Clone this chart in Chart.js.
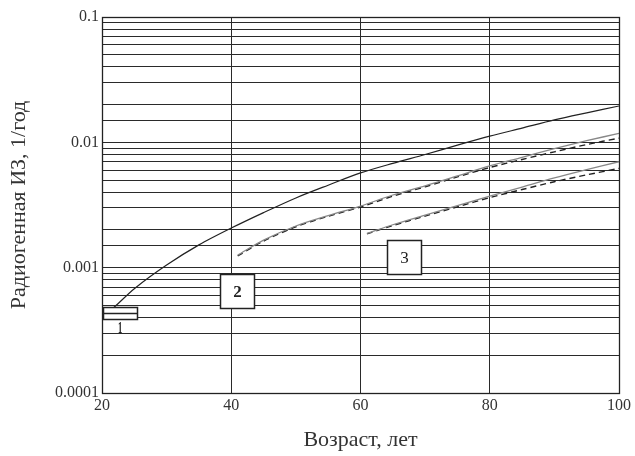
<!DOCTYPE html>
<html>
<head>
<meta charset="utf-8">
<script src="https://cdn.jsdelivr.net/npm/chart.js@4"></script>
<style>
html,body{margin:0;padding:0;background:#fff;}
#wrap{width:635px;height:456px;}
</style>
</head>
<body>
<div id="wrap"><canvas id="c" width="635" height="456"></canvas></div>
<script>
// ---- data ----
const xTickLabels = [20, 40, 60, 80, 100];
const yTickLabels = ['0.0001', '0.001', '0.01', '0.1'];

const age1  = [21.5, 22, 25, 30, 35, 40, 45, 50, 55, 60, 65, 70, 75, 80, 85, 90, 95, 100];
const rate1 = [4.7e-4, 4.9e-4, 6.8e-4, 1.05e-3, 1.52e-3, 2.07e-3, 2.75e-3, 3.6e-3, 4.55e-3, 5.7e-3, 6.8e-3, 8.0e-3, 9.5e-3, 1.12e-2, 1.3e-2, 1.51e-2, 1.72e-2, 1.95e-2];

const age2       = [41, 45, 50, 55, 60, 65, 70, 75, 80, 85, 90, 95, 100];
const rate2      = [1.26e-3, 1.66e-3, 2.15e-3, 2.6e-3, 3.1e-3, 3.8e-3, 4.5e-3, 5.4e-3, 6.5e-3, 7.6e-3, 8.9e-3, 1.03e-2, 1.18e-2];
const rate2dash  = [1.24e-3, 1.63e-3, 2.12e-3, 2.57e-3, 3.05e-3, 3.72e-3, 4.42e-3, 5.3e-3, 6.3e-3, 7.3e-3, 8.4e-3, 9.6e-3, 1.08e-2];

const age3       = [61, 65, 70, 75, 80, 85, 90, 95, 100];
const rate3      = [1.88e-3, 2.2e-3, 2.62e-3, 3.12e-3, 3.72e-3, 4.4e-3, 5.2e-3, 6.05e-3, 7.0e-3];
const rate3dash  = [1.86e-3, 2.17e-3, 2.58e-3, 3.06e-3, 3.62e-3, 4.2e-3, 4.85e-3, 5.5e-3, 6.2e-3];

const xTitle = 'Возраст, лет';
const yTitle = 'Радиогенная ИЗ, 1/год';

// curve labels (data coordinates of each label box centre)
const boxLabels = ['1', '2', '3'];
const boxAges   = [22.8, 40.9, 66.7];
const boxRates  = [4.35e-4, 6.5e-4, 1.22e-3];

function pts(xs, ys){ return xs.map((x,i)=>({x:x, y:ys[i]})); }

const SERIF = '"Liberation Serif", "Times New Roman", serif';

const framePlugin = {
  id: 'frame',
  afterDatasetsDraw(chart){
    const {ctx, chartArea:a, scales} = chart;
    ctx.save();
    ctx.strokeStyle = '#222';
    ctx.lineWidth = 1.3;
    ctx.strokeRect(Math.round(a.left)+0.5, Math.round(a.top)+0.5, Math.round(a.right-a.left), Math.round(a.bottom-a.top));
    // label boxes
    boxLabels.forEach((lab, i) => {
      const cx = scales.x.getPixelForValue(boxAges[i]);
      const cy = scales.y.getPixelForValue(boxRates[i]);
      ctx.fillStyle = '#fff';
      ctx.strokeStyle = '#222';
      ctx.lineWidth = 1.5;
      if (i === 0) {
        const w = 34, h = 12;
        const l = Math.round(cx - w/2)+0.5, t = Math.round(cy - h/2)+0.5;
        ctx.fillRect(l, t, w, h);
        ctx.strokeRect(l, t, w, h);
        ctx.beginPath();
        ctx.moveTo(l, t + h/2); ctx.lineTo(l + w, t + h/2);
        ctx.stroke();
        ctx.save();
        ctx.fillStyle = '#222';
        ctx.translate(cx, t + h + 1);
        ctx.scale(0.5, 1);
        ctx.font = 'bold 17px ' + SERIF;
        ctx.textAlign = 'center';
        ctx.textBaseline = 'top';
        ctx.fillText(lab, 0, 0);
        ctx.restore();
      } else {
        const w = 34, h = 34;
        const l = Math.round(cx - w/2)+0.5, t = Math.round(cy - h/2)+0.5;
        ctx.fillRect(l, t, w, h);
        ctx.strokeRect(l, t, w, h);
        ctx.fillStyle = '#222';
        ctx.font = (i === 1 ? 'bold ' : '') + '17px ' + SERIF;
        ctx.textAlign = 'center';
        ctx.textBaseline = 'middle';
        ctx.fillText(lab, l + w/2, t + h/2 + 1);
      }
    });
    ctx.restore();
  }
};

new Chart(document.getElementById('c'), {
  type: 'line',
  data: {
    datasets: [
      { data: pts(age1, rate1), borderColor: '#222', borderWidth: 1.2, pointRadius: 0, tension: 0.3, fill: false },
      { data: pts(age2, rate2), borderColor: '#888', borderWidth: 1.3, pointRadius: 0, tension: 0.3, fill: false },
      { data: pts(age2, rate2dash), borderColor: '#222', borderWidth: 1.4, borderDash: [6, 4], pointRadius: 0, tension: 0.3, fill: false },
      { data: pts(age3, rate3), borderColor: '#888', borderWidth: 1.3, pointRadius: 0, tension: 0.3, fill: false },
      { data: pts(age3, rate3dash), borderColor: '#222', borderWidth: 1.4, borderDash: [6, 4], pointRadius: 0, tension: 0.3, fill: false }
    ]
  },
  options: {
    responsive: false,
    animation: false,
    events: [],
    layout: { padding: { left: 0, top: 17, right: 16, bottom: 0 } },
    plugins: { legend: { display: false }, tooltip: { enabled: false } },
    scales: {
      x: {
        type: 'linear',
        min: xTickLabels[0],
        max: xTickLabels[xTickLabels.length - 1],
        afterBuildTicks(scale){ scale.ticks = xTickLabels.map(v => ({value: v})); },
        afterFit(scale){ scale.height = 63; },
        grid: { color: '#2a2a2a', lineWidth: 1, drawTicks: false },
        border: { display: false },
        ticks: { color: '#333', padding: 3, font: { family: SERIF, size: 16 }, maxRotation: 0, autoSkip: false },
        title: { display: true, text: xTitle, color: '#333', font: { family: SERIF, size: 22 }, padding: { top: 0, bottom: 3 } }
      },
      y: {
        type: 'logarithmic',
        min: 1e-4,
        max: 0.1,
        afterFit(scale){ scale.width = 102; },
        grid: { color: '#2a2a2a', lineWidth: 1, drawTicks: false },
        border: { display: false },
        ticks: {
          color: '#333', padding: 3, autoSkip: false, font: { family: SERIF, size: 16 },
          callback(v){
            const e = Math.log10(v);
            if (Math.abs(e - Math.round(e)) < 1e-6) {
              const idx = Math.round(e) + 4;
              return yTickLabels[idx] !== undefined ? yTickLabels[idx] : '';
            }
            return '';
          }
        },
        title: { display: true, text: yTitle, color: '#333', font: { family: SERIF, size: 22 }, padding: { top: 6, bottom: 0 } }
      }
    }
  },
  plugins: [framePlugin]
});
</script>
</body>
</html>
